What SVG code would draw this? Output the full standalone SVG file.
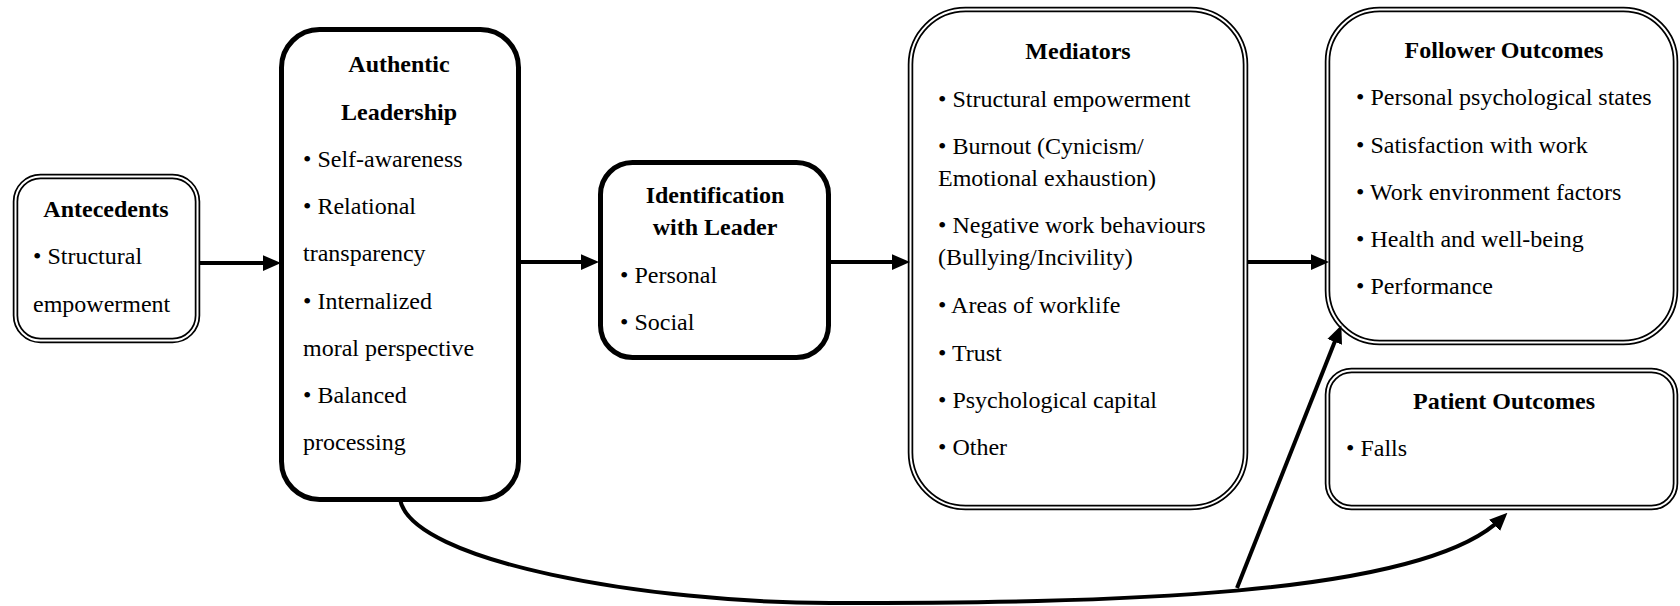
<svg xmlns="http://www.w3.org/2000/svg" width="1680" height="606" viewBox="0 0 1680 606">
<style>
.bg{fill:#ffffff}
.dbl{fill:none;stroke:#000;stroke-width:5.5}
.dblw{fill:none;stroke:#fff;stroke-width:2}
.thick{fill:#fff;stroke:#000;stroke-width:5}
.t{font-family:"Liberation Serif","Times New Roman",serif;font-size:24px;fill:#000}
.h{font-weight:bold;text-anchor:middle}
.c{fill:none;stroke:#000;stroke-width:4;stroke-linecap:butt}
</style>
<defs>
<marker id="ah" markerUnits="userSpaceOnUse" markerWidth="18" markerHeight="16" viewBox="0 0 16 14" refX="8" refY="7" orient="auto">
<path d="M0,0 L16,7 L0,14 z" fill="#000"/>
</marker>
</defs>
<rect class="bg" x="0" y="0" width="1680" height="606"/>

<g id="antecedents">
<rect class="dbl" x="15.5" y="176.5" width="182" height="164" rx="25"/>
<rect class="dblw" x="15.5" y="176.5" width="182" height="164" rx="25"/>
<text class="t h" x="106" y="217">Antecedents</text>
<text class="t" x="33" y="264">• Structural</text>
<text class="t" x="33" y="312">empowerment</text>
</g>

<g id="authentic-leadership">
<rect class="thick" x="281.5" y="29.5" width="237" height="470" rx="38"/>
<text class="t h" x="399" y="72">Authentic</text>
<text class="t h" x="399" y="119.5">Leadership</text>
<text class="t" x="303" y="166.5">• Self-awareness</text>
<text class="t" x="303" y="214">• Relational</text>
<text class="t" x="303" y="261">transparency</text>
<text class="t" x="303" y="308.5">• Internalized</text>
<text class="t" x="303" y="356">moral perspective</text>
<text class="t" x="303" y="403">• Balanced</text>
<text class="t" x="303" y="450">processing</text>
</g>

<g id="identification">
<rect class="thick" x="600.5" y="162.5" width="228" height="195" rx="32"/>
<text class="t h" x="715" y="203">Identification</text>
<text class="t h" x="715" y="235">with Leader</text>
<text class="t" x="620" y="283">• Personal</text>
<text class="t" x="620" y="330">• Social</text>
</g>

<g id="mediators">
<rect class="dbl" x="910.5" y="9.5" width="335" height="498" rx="55"/>
<rect class="dblw" x="910.5" y="9.5" width="335" height="498" rx="55"/>
<text class="t h" x="1078" y="59">Mediators</text>
<text class="t" x="938" y="107">• Structural empowerment</text>
<text class="t" x="938" y="154">• Burnout (Cynicism/</text>
<text class="t" x="938" y="186">Emotional exhaustion)</text>
<text class="t" x="938" y="233">• Negative work behaviours</text>
<text class="t" x="938" y="265">(Bullying/Incivility)</text>
<text class="t" x="938" y="313">• Areas of worklife</text>
<text class="t" x="938" y="361">• Trust</text>
<text class="t" x="938" y="408">• Psychological capital</text>
<text class="t" x="938" y="455">• Other</text>
</g>

<g id="follower-outcomes">
<rect class="dbl" x="1327.5" y="9.5" width="348" height="333" rx="52"/>
<rect class="dblw" x="1327.5" y="9.5" width="348" height="333" rx="52"/>
<text class="t h" x="1504" y="58">Follower Outcomes</text>
<text class="t" x="1356" y="105">• Personal psychological states</text>
<text class="t" x="1356" y="153">• Satisfaction with work</text>
<text class="t" x="1356" y="200">• Work environment factors</text>
<text class="t" x="1356" y="247">• Health and well-being</text>
<text class="t" x="1356" y="294">• Performance</text>
</g>

<g id="patient-outcomes">
<rect class="dbl" x="1327.5" y="370.5" width="348" height="137" rx="24"/>
<rect class="dblw" x="1327.5" y="370.5" width="348" height="137" rx="24"/>
<text class="t h" x="1504" y="409">Patient Outcomes</text>
<text class="t" x="1346" y="456">• Falls</text>
</g>

<g id="connectors">
<path class="c" d="M200,263 L272,263" marker-end="url(#ah)"/>
<path class="c" d="M521,262 L590,262" marker-end="url(#ah)"/>
<path class="c" d="M831,262 L901,262" marker-end="url(#ah)"/>
<path class="c" d="M1248,262 L1320,262" marker-end="url(#ah)"/>
<path class="c" d="M400,499 C410,562 650,603 830,603 C1100,603 1420,598 1501,519" marker-end="url(#ah)"/>
<path class="c" d="M1237,588 L1338,333.5" marker-end="url(#ah)"/>
</g>
</svg>
